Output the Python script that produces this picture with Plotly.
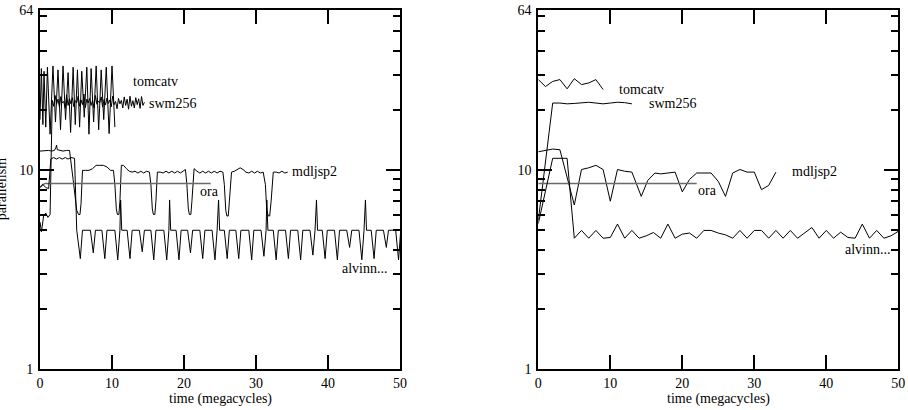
import math
import plotly.graph_objects as go

# ---------------- data: left panel (fine resolution) ----------------
tomcatv_l_x = [0, 0.19, 0.4, 0.56, 0.8, 1.03, 1.4, 1.8, 2.15, 2.5, 2.85, 3.2, 3.55, 3.9, 4.25, 4.6,
               4.9, 5.2, 5.5, 5.8, 6.15, 6.5, 6.8, 7.1, 7.45, 7.8, 8.15, 8.5, 8.85, 9.2, 9.6, 10.0, 10.4]
tomcatv_l_y = [18, 32.5, 17, 31.5, 16.5, 33, 15.2, 33.5, 17.5, 32, 16, 33.5, 18, 31, 15.5, 33,
               17, 32, 16.5, 31.5, 18.5, 33, 15.2, 32.5, 17.5, 33.5, 16, 32, 18, 33, 15.3, 33.5, 16.5]

swm256_l_x = [0, 0.2, 0.5, 0.8, 1.1, 1.4,
              1.7, 1.9, 2.1, 2.3, 2.5, 2.7, 2.9, 3.1, 3.3, 3.5,
              3.7, 3.9, 4.1, 4.3, 4.5, 4.7, 4.9, 5.1, 5.3, 5.5,
              5.7, 5.9, 6.1, 6.3, 6.5, 6.7, 6.9, 7.1, 7.3, 7.5,
              7.7, 7.9, 8.1, 8.3, 8.5, 8.7, 8.9, 9.1, 9.3, 9.5,
              9.7, 9.9, 10.1, 10.3, 10.5, 10.7, 10.9, 11.1, 11.3, 11.5,
              11.7, 11.9, 12.1, 12.3, 12.5, 12.7, 12.9, 13.1, 13.3, 13.5,
              13.7, 13.9, 14.1, 14.3, 14.5]
swm256_l_y = [5.5, 4.9, 5.9, 6.1, 5.8, 6.0,
              22.5, 21.0, 23.8, 21.5, 22.8, 20.8, 23.5, 21.8, 22.2, 20.5,
              24.0, 21.2, 22.9, 21.6, 23.2, 20.9, 22.4, 21.9, 23.6, 21.0,
              22.6, 21.4, 24.2, 20.7, 22.8, 21.8, 23.0, 21.2, 22.5, 20.6,
              23.8, 21.5, 22.3, 21.9, 23.4, 20.8, 22.7, 21.3, 23.1, 21.7,
              22.6, 20.9, 23.6, 21.4, 22.2, 20.4, 23.0, 21.6, 22.5, 20.6,
              23.4, 21.2, 22.8, 20.3, 23.6, 21.0, 22.4, 20.6, 23.2, 21.4,
              22.9, 20.5, 23.5, 21.2, 22.0]

mdljsp2_l_x = [0, 1.2, 1.6, 2.0, 2.2, 2.3, 2.4, 2.7, 3.2, 3.7, 4.1,
               4.6, 4.9, 5.1, 5.35, 5.55, 5.7, 5.9,
               6.3, 6.8, 7.3, 7.8, 8.3, 8.8, 9.3, 9.8, 10.2,
               10.4, 10.6, 10.75, 10.95, 11.1, 11.3,
               11.6, 12.0, 12.4, 12.8, 13.2, 13.6, 14.0, 14.4, 14.8, 15.2,
               15.4, 15.6, 15.75, 15.95, 16.1, 16.3,
               16.7, 17.1, 17.5, 17.9, 18.3, 18.7, 19.1, 19.5, 19.9, 20.2,
               20.4, 20.6, 20.75, 20.95, 21.1, 21.4,
               21.8, 22.2, 22.6, 23.0, 23.4, 23.8, 24.2, 24.6, 25.0, 25.4,
               25.6, 25.8, 25.95, 26.15, 26.3, 26.6,
               27.0, 27.4, 27.8, 28.2, 28.6, 29.0, 29.4, 29.8, 30.2, 30.6, 31.0,
               31.3, 31.5, 31.7, 31.9, 32.1, 32.4,
               32.8, 33.2, 33.6, 34.0, 34.4]
mdljsp2_l_y = [12.5, 12.6, 12.5, 12.6, 13.0, 13.4, 12.7, 12.6, 12.5, 12.6, 12.6,
               9.0, 7.0, 6.3, 6.0, 6.0, 6.8, 10.0,
               10.0, 10.0, 10.2, 10.6, 10.6, 10.6, 10.4, 10.0, 10.0,
               8.5, 6.4, 6.0, 6.0, 7.0, 10.6,
               10.6, 10.2, 9.9, 9.8, 9.9, 9.7, 9.9, 9.7, 9.9, 9.8,
               8.5, 6.4, 6.0, 6.0, 7.0, 9.8,
               9.8, 9.7, 9.9, 9.7, 9.9, 9.7, 9.9, 9.7, 9.9, 10.1,
               8.5, 6.4, 6.0, 6.0, 7.0, 10.2,
               9.9, 9.7, 9.9, 9.7, 9.9, 9.7, 9.9, 9.7, 9.9, 9.8,
               8.5, 6.3, 5.9, 5.9, 7.0, 9.8,
               9.9, 10.1, 10.3, 10.1, 9.8, 9.7, 9.9, 9.7, 9.9, 9.7, 9.8,
               8.5, 6.3, 5.9, 5.9, 7.0, 9.8,
               9.8, 9.7, 9.9, 9.7, 9.8]

ora_l_x = [0, 0.4, 0.8, 23.7]
ora_l_y = [8.2, 8.5, 8.6, 8.6]

alvinn_l_x = [0, 0.4, 0.8, 1.2, 1.5, 1.9, 2.3, 2.7, 3.1, 3.5, 3.9, 4.3, 4.8, 5.1,
              5.6, 5.9, 7.0, 7.4, 7.7, 8.6, 9.0, 9.3,
              10.4, 10.8, 11.1, 11.2, 11.35, 12.1, 12.5, 12.8,
              13.8, 14.2, 14.5, 15.4, 15.8, 16.1,
              17.2, 17.6, 17.9, 18.0, 18.15, 18.9, 19.3, 19.6,
              20.5, 20.9, 21.2, 22.2, 22.6, 22.9,
              23.9, 24.3, 24.6, 24.8, 24.95, 25.6, 26.0, 26.3,
              27.2, 27.6, 27.9, 29.0, 29.4, 29.7,
              30.7, 31.1, 31.4, 31.5, 31.65, 32.4, 32.8, 33.1,
              34.1, 34.5, 34.8, 35.8, 36.2, 36.5,
              37.5, 37.9, 38.2, 38.4, 38.55, 39.2, 39.6, 39.9,
              40.9, 41.3, 41.6, 42.6, 43.0, 43.3,
              44.3, 44.7, 45.0, 45.2, 45.35, 46.0, 46.4, 46.7,
              47.7, 48.1, 48.4, 49.4, 49.8, 50.1]
alvinn_l_y = [8.2, 8.5, 8.2, 8.1, 11.4, 11.6, 11.4, 11.6, 11.4, 11.6, 11.4, 11.6, 11.5, 5.0,
              3.6, 5.0, 5.0, 3.85, 5.0, 5.0, 3.6, 5.0,
              5.0, 3.55, 5.0, 7.1, 5.0, 5.0, 3.6, 5.0,
              5.0, 3.9, 5.0, 5.0, 3.55, 5.0,
              5.0, 3.55, 5.0, 7.1, 5.0, 5.0, 3.55, 5.0,
              5.0, 3.85, 5.0, 5.0, 3.6, 5.0,
              5.0, 3.55, 5.0, 7.1, 5.0, 5.0, 3.6, 5.0,
              5.0, 3.6, 5.0, 5.0, 3.55, 5.0,
              5.0, 3.7, 5.0, 7.1, 5.0, 5.0, 3.55, 5.0,
              5.0, 3.6, 5.0, 5.0, 3.55, 5.0,
              5.0, 3.75, 5.0, 7.1, 5.0, 5.0, 3.6, 5.0,
              5.0, 3.55, 5.0, 5.0, 4.1, 5.0,
              5.0, 3.55, 5.0, 7.1, 5.0, 5.0, 3.6, 5.0,
              5.0, 4.1, 5.0, 5.0, 3.55, 5.0]

# ---------------- data: right panel (1 megacycle resolution) ----------------
tomcatv_r_x = [0, 1, 2, 3, 4, 5, 6, 7, 8, 9]
tomcatv_r_y = [28.6, 26.4, 28.0, 28.6, 25.7, 28.9, 27.0, 27.5, 28.6, 25.5]

swm256_r_x = [0, 2, 3, 4, 5, 6, 7, 8, 9, 10, 11, 12, 13]
swm256_r_y = [5.6, 21.8, 21.8, 21.6, 21.7, 21.9, 22.0, 21.8, 21.6, 21.8, 22.0, 21.9, 21.6]

mdljsp2_r_x = [0, 1, 2, 3, 5, 6, 7, 8, 9, 10, 11, 12, 13, 14.3, 15.2, 16.2, 17, 18, 19, 20,
               21, 22, 24, 25, 26, 27, 28, 29, 30, 31, 32, 33]
mdljsp2_r_y = [12.4, 12.6, 12.8, 12.7, 6.7, 10.1, 10.3, 10.6, 10.1, 7.0, 10.1, 9.9, 9.8, 7.4, 8.9,
               9.7, 9.6, 9.7, 9.8, 7.8, 9.0, 9.7, 9.7, 8.8, 7.4, 9.7, 10.1, 9.8, 9.8, 8.0, 8.4, 9.8]

ora_r_x = [0, 22]
ora_r_y = [8.6, 8.6]

alvinn_r_x = [0, 2, 4, 5, 6, 7, 8, 9, 10, 11, 12, 13, 14, 15, 16, 17, 18, 19, 20, 21, 22, 23, 24,
              25, 26, 27, 28, 29, 30, 31, 32, 33, 34, 35, 36, 37, 38, 39, 40, 41, 42, 43, 44, 45,
              46, 47, 48, 49, 50, 51]
alvinn_r_y = [5.4, 11.5, 11.5, 4.56, 4.99, 4.56, 4.99, 4.56, 4.6, 5.37, 4.56, 4.99, 4.56, 4.69,
              4.87, 4.56, 5.37, 4.56, 4.78, 4.84, 4.56, 4.99, 4.99, 4.84, 4.74, 4.56, 4.99, 4.56,
              4.99, 4.99, 4.56, 4.99, 4.56, 4.99, 4.56, 4.87, 5.16, 4.56, 4.99, 4.56, 4.89, 4.6,
              4.56, 5.37, 4.56, 4.99, 4.56, 4.69, 4.94, 4.56]

series_names = ["tomcatv", "swm256", "mdljsp2", "ora", "alvinn..."]
left_label_pos = [(12.6, 27.9), (14.8, 21.8), (34.7, 9.84), (21.9, 7.8), (41.6, 3.23)]
right_label_pos = [(10.9, 25.5), (15.1, 21.6), (34.9, 9.84), (21.9, 7.9), (42.3, 3.98)]

x_tickvals = [0, 10, 20, 30, 40, 50]
y_tickvals = [1, 10, 64]
y_ticktext = ["1", "10", "64"]
y_minor = [2, 3, 4, 5, 6, 7, 8, 9, 20, 30, 40, 50, 60]
x_title = "time (megacycles)"
y_title = "parallelism"

# ---------------- figure ----------------
FONT = "Liberation Serif"
W, H = 908, 410
fig = go.Figure()

left = [(tomcatv_l_x, tomcatv_l_y), (swm256_l_x, swm256_l_y), (mdljsp2_l_x, mdljsp2_l_y),
        (ora_l_x, ora_l_y), (alvinn_l_x, alvinn_l_y)]
right = [(tomcatv_r_x, tomcatv_r_y), (swm256_r_x, swm256_r_y), (mdljsp2_r_x, mdljsp2_r_y),
         (ora_r_x, ora_r_y), (alvinn_r_x, alvinn_r_y)]

for name, (xs, ys) in zip(series_names, left):
    grey = name == "ora"
    fig.add_trace(go.Scatter(x=xs, y=ys, mode="lines", xaxis="x", yaxis="y", showlegend=False,
                             line=dict(color="#6a6a6a" if grey else "black",
                                       width=1.5 if grey else 1)))
for name, (xs, ys) in zip(series_names, right):
    grey = name == "ora"
    fig.add_trace(go.Scatter(x=xs, y=ys, mode="lines", xaxis="x2", yaxis="y2", showlegend=False,
                             line=dict(color="#6a6a6a" if grey else "black",
                                       width=1.5 if grey else 1)))

xdom_l = [40 / W, 400 / W]
xdom_r = [538.3 / W, 898.3 / W]
ydom = [40.7 / H, 400 / H]

xaxis_common = dict(range=[0, 50], tickvals=x_tickvals, ticks="inside", ticklen=14, tickwidth=2,
                    tickcolor="black", showline=True, linewidth=2, linecolor="black",
                    mirror="ticks", showgrid=False, zeroline=False,
                    tickfont=dict(family=FONT, size=14, color="black"),
                    ticklabelstandoff=0)
yaxis_common = dict(type="log", range=[0, math.log10(64)], tickvals=y_tickvals, ticktext=y_ticktext,
                    ticks="inside", ticklen=14, tickwidth=2, tickcolor="black",
                    minor=dict(tickvals=y_minor, ticks="inside", ticklen=7, tickwidth=2,
                               tickcolor="black", showgrid=False),
                    showline=True, linewidth=2, linecolor="black", mirror="ticks",
                    showgrid=False, zeroline=False,
                    tickfont=dict(family=FONT, size=14, color="black"),
                    ticklabelstandoff=2)

fig.update_layout(
    width=W, height=H,
    margin=dict(l=0, r=0, t=0, b=0),
    paper_bgcolor="white", plot_bgcolor="white",
    font=dict(family=FONT, size=14, color="black"),
    xaxis=dict(domain=xdom_l, anchor="y", automargin=False, **xaxis_common),
    yaxis=dict(domain=ydom, anchor="x", automargin=False, **yaxis_common),
    xaxis2=dict(domain=xdom_r, anchor="y2", automargin=False, **xaxis_common),
    yaxis2=dict(domain=ydom, anchor="x2", automargin=False, **yaxis_common),
)

annotations = []
for name, (ax, ay) in zip(series_names, left_label_pos):
    annotations.append(dict(x=ax, y=math.log10(ay), xref="x", yref="y", text=name, showarrow=False,
                            xanchor="left", yanchor="middle",
                            font=dict(family=FONT, size=14, color="black")))
for name, (ax, ay) in zip(series_names, right_label_pos):
    annotations.append(dict(x=ax, y=math.log10(ay), xref="x2", yref="y2", text=name, showarrow=False,
                            xanchor="left", yanchor="middle",
                            font=dict(family=FONT, size=14, color="black")))
# axis titles
for dom in (xdom_l, xdom_r):
    annotations.append(dict(x=(dom[0] + dom[1]) / 2, y=(H - 398.5) / H, xref="paper", yref="paper",
                            text=x_title, showarrow=False, xanchor="center", yanchor="middle",
                            borderpad=0,
                            font=dict(family=FONT, size=14, color="black")))
annotations.append(dict(x=1.5 / W, y=(ydom[0] + ydom[1]) / 2, xref="paper", yref="paper",
                        text=y_title, textangle=-90, showarrow=False,
                        xanchor="center", yanchor="middle",
                        font=dict(family=FONT, size=14, color="black")))
fig.update_layout(annotations=annotations)

fig.write_html("out.html")
